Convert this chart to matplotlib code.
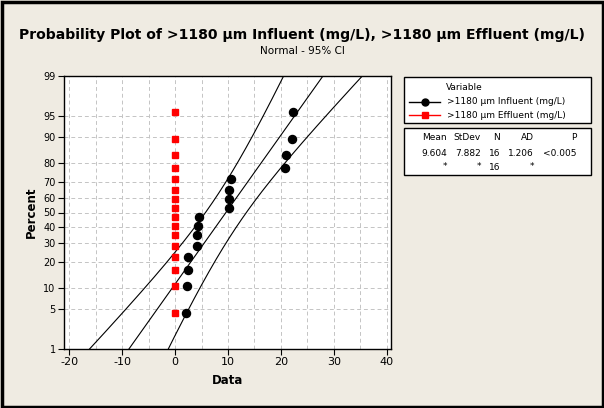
import matplotlib.pyplot as plt
import numpy as np
from statistics import NormalDist
from matplotlib.patches import Rectangle

# data
influent = [2.2, 2.15, 2.35, 2.35, 4.1, 4.1, 4.25, 4.55,
            10.2, 10.2, 10.2, 10.55, 20.75, 21.05, 22.1, 22.3]
effluent = [0.0] * 16
mean_in = 9.604
sd_in = 7.882
pct_ticks = [1, 5, 10, 20, 30, 40, 50, 60, 70, 80, 90, 95, 99]
x_ticks = [-20, -10, 0, 10, 20, 30, 40]

nd = NormalDist()
W, H = 604, 408
bg = '#EFEBE2'

def z(p):
    return nd.inv_cdf(p)

def ranks(n):
    # median ranks, as Minitab does
    return [z((i - 0.3) / (n + 0.4)) for i in range(1, n + 1)]

fig = plt.figure(figsize=(W / 100, H / 100), dpi=100, facecolor=bg)
plt.rcParams['font.family'] = ['DejaVu Sans']

ax = fig.add_axes([64 / W, 1 - 349 / H, (391 - 64) / W, (349 - 76) / H])
ax.set_facecolor('white')

# fitted line + 95% CI
n = len(influent)
zz = np.linspace(z(0.001), z(0.999), 200)
xp = mean_in + sd_in * zz
half = 1.96 * sd_in / np.sqrt(n) * np.sqrt(1 + zz ** 2 / 2)
ax.plot(xp, zz, color='black', lw=0.8)
ax.plot(xp - half, zz, color='black', lw=0.8)
ax.plot(xp + half, zz, color='black', lw=0.8)

ax.plot(sorted(influent), ranks(n), 'o', color='black', ms=5.8, ls='none', zorder=3)
ax.plot(sorted(effluent), ranks(len(effluent)), 's', color='#FF0000', ms=5, ls='none', zorder=3)

ax.set_xlim(-21, 40.8)
ax.set_ylim(z(0.01), z(0.99))
ax.set_yticks([z(p / 100) for p in pct_ticks])
ax.set_yticklabels([str(p) for p in pct_ticks])
ax.set_xticks(x_ticks)
ax.set_xticklabels([str(t) for t in x_ticks])
ax.tick_params(labelsize=8, length=4, width=0.8, colors='black', pad=2)
ax.tick_params(axis='y', labelsize=7)
for g in np.arange(-20, 41, 5):
    ax.axvline(g, color='#C4C4C4', lw=0.7, ls=(0, (4, 3)), zorder=0)
for p in pct_ticks[1:-1]:
    ax.axhline(z(p / 100), color='#C4C4C4', lw=0.7, ls=(0, (4, 3)), zorder=0)
for s in ax.spines.values():
    s.set_linewidth(1)
ax.set_xlabel('Data', fontsize=8.5, fontweight='bold', labelpad=5)
ax.set_ylabel('Percent', fontsize=8.5, fontweight='bold', labelpad=4)

# overlay in pixel coords for titles, legend and stats table
ov = fig.add_axes([0, 0, 1, 1], facecolor='none')
ov.set_xlim(0, W)
ov.set_ylim(H, 0)
ov.axis('off')
ov.add_patch(Rectangle((1.5, 1.5), W - 3, H - 3, fill=False, ec='black', lw=2.5))

ov.text(W / 2, 35, 'Probability Plot of >1180 µm Influent (mg/L), >1180 µm Effluent (mg/L)',
        ha='center', va='center', fontsize=10.1, fontweight='bold')
ov.text(W / 2, 51, 'Normal - 95% CI', ha='center', va='center', fontsize=7.5)

# legend box
ov.add_patch(Rectangle((404, 77), 187, 46, fc='white', ec='black', lw=1))
ov.text(446, 87, 'Variable', ha='left', va='center', fontsize=6.5)
ov.plot([409, 440], [102, 102], color='black', lw=1)
ov.plot([425], [102], 'o', color='black', ms=5)
ov.plot([409, 440], [115, 115], color='#FF0000', lw=1)
ov.plot([425], [115], 's', color='#FF0000', ms=4.5)
ov.text(447, 102, '>1180 µm Influent (mg/L)', ha='left', va='center', fontsize=6.5)
ov.text(447, 115, '>1180 µm Effluent (mg/L)', ha='left', va='center', fontsize=6.5)

# stats table
ov.add_patch(Rectangle((404, 128), 187, 47, fc='white', ec='black', lw=1))
cols_x = [447, 481, 500, 534, 576]
rows = [['Mean', 'StDev', 'N', 'AD', 'P'],
        ['9.604', '7.882', '16', '1.206', '<0.005'],
        ['*', '*', '16', '*', '']]
for r, yv in zip(rows, [138, 153, 167]):
    for txt, xv in zip(r, cols_x):
        ov.text(xv, yv, txt, ha='right', va='center', fontsize=6.5)

fig.savefig('out.png', dpi=100, facecolor=bg)
